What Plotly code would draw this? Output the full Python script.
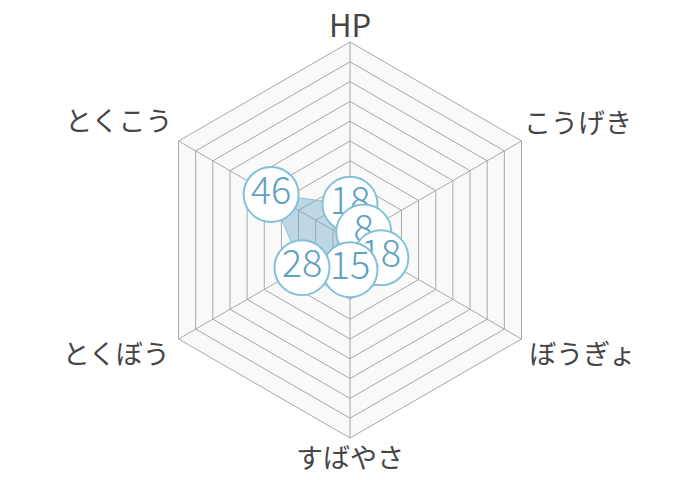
import plotly.graph_objects as go

# stats
categories = ["HP", "こうげき", "ぼうぎょ", "すばやさ", "とくぼう", "とくこう"]
values = [18, 8, 18, 15, 28, 46]

FONT = "Noto Sans CJK JP"
LINE_BLUE = "#84c1d9"
TEXT_BLUE = "#5fa2c2"
GRID = "#a8a8a8"

# chart centre (paper px, from left / from bottom) and radii in px
CX, CY = 342, 248
R_MAIN = 198
R_LABEL = 230


def dom(cx, cy, r, w=700, h=480):
    return dict(x=[(cx - r) / w, (cx + r) / w], y=[(cy - r) / h, (cy + r) / h])


def make_chart():
    fig = go.Figure()

    # filled shape
    fig.add_trace(go.Scatterpolar(
        r=values + values[:1],
        theta=categories + categories[:1],
        mode="lines",
        fill="toself",
        fillcolor="rgba(110,170,200,0.42)",
        line=dict(color=LINE_BLUE, width=1),
        hoverinfo="skip",
    ))

    # one trace per bubble so each label sits on its own circle
    for cat, val in zip(categories, values):
        fig.add_trace(go.Scatterpolar(
            r=[val],
            theta=[cat],
            mode="markers+text",
            text=[str(val)],
            textposition="middle center",
            textfont=dict(family=FONT, size=38, color=TEXT_BLUE, weight=300),
            marker=dict(size=55, color="white",
                        line=dict(color=LINE_BLUE, width=2)),
            cliponaxis=False,
        ))

    # axis names, on a transparent overlay polar whose radius is in px
    label_r = [195, 201, 207, 208, 208, 205]
    label_pos = ["top center", "top right", "bottom right",
                 "bottom center", "bottom left", "top left"]
    label_size = [31, 27, 27, 27, 27, 27]
    fig.add_trace(go.Scatterpolar(
        r=label_r,
        theta=categories,
        mode="text",
        text=categories,
        textposition=label_pos,
        textfont=dict(family=FONT, size=label_size, color="#454545"),
        cliponaxis=False,
        hoverinfo="skip",
        subplot="polar2",
    ))

    hidden = dict(visible=False)
    fig.update_layout(
        width=700,
        height=480,
        showlegend=False,
        paper_bgcolor="white",
        margin=dict(l=0, r=0, t=0, b=0, autoexpand=False),
        font=dict(family=FONT, color="#444444"),
        polar=dict(
            domain=dom(CX, CY, R_MAIN),
            bgcolor="#f9f9f9",
            gridshape="linear",
            radialaxis=dict(
                range=[0, 100],
                dtick=10,
                showticklabels=False,
                ticks="",
                showline=False,
                gridcolor=GRID,
                gridwidth=1,
            ),
            angularaxis=dict(
                categoryorder="array",
                categoryarray=categories,
                direction="clockwise",
                rotation=90,
                ticks="",
                showticklabels=False,
                showline=True,
                linecolor=GRID,
                gridcolor=GRID,
            ),
        ),
        polar2=dict(
            domain=dom(CX, CY, R_LABEL),
            bgcolor="rgba(0,0,0,0)",
            radialaxis=dict(range=[0, R_LABEL], **hidden),
            angularaxis=dict(
                categoryorder="array",
                categoryarray=categories,
                direction="clockwise",
                rotation=90,
                **hidden,
            ),
        ),
    )

    fig.write_html("out.html")


if __name__ == "__main__":
    make_chart()
